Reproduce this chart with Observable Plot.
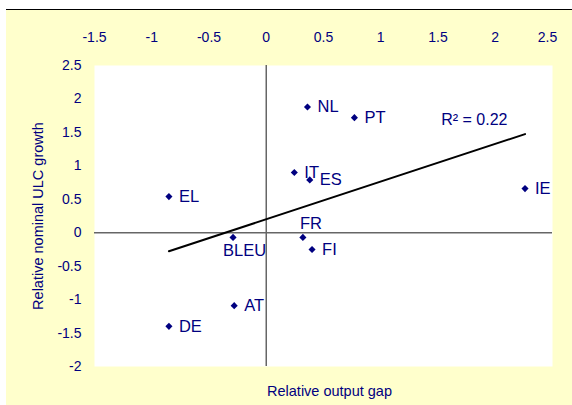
<!DOCTYPE html>
<html>
<head>
<meta charset="utf-8">
<script src="https://cdn.jsdelivr.net/npm/d3@7"></script>
<script src="https://cdn.jsdelivr.net/npm/@observablehq/plot@0.6"></script>
<style>
  body { margin: 0; background: white; }
  #chart { position: absolute; left: 6px; top: 9px; width: 566px; height: 395px; background: #FFFFCC; border-top: 1px solid black; }
</style>
</head>
<body>
<div id="chart"></div>
<script>
const countries = ["EL", "DE", "AT", "BLEU", "IT", "ES", "NL", "PT", "IE", "FR", "FI"];
const outputGap = [-0.85, -0.85, -0.28, -0.29, 0.245, 0.38, 0.36, 0.77, 2.26, 0.32, 0.40];
const ulcGrowth = [0.54, -1.40, -1.09, -0.07, 0.90, 0.79, 1.88, 1.72, 0.66, -0.07, -0.25];
const xTicks = [-1.5, -1, -0.5, 0, 0.5, 1, 1.5, 2, 2.5];
const yTicks = [-2, -1.5, -1, -0.5, 0, 0.5, 1, 1.5, 2, 2.5];
const xTitle = "Relative output gap";
const yTitle = "Relative nominal ULC growth";

const data = countries.map((c, i) => ({country: c, x: outputGap[i], y: ulcGrowth[i]}));

// R² of the linear fit
const mx = d3.mean(outputGap), my = d3.mean(ulcGrowth);
const sxy = d3.sum(data, d => (d.x - mx) * (d.y - my));
const sxx = d3.sum(data, d => (d.x - mx) ** 2);
const syy = d3.sum(data, d => (d.y - my) ** 2);
const r2 = (sxy * sxy) / (sxx * syy);
const r2Label = "R\u00B2 = " + r2.toFixed(2);

const navy = "#000080";
const above = new Set(["FR"]);
const below = new Set(["BLEU"]);
const labelSize = 16.5;

const chart = Plot.plot({
  width: 566,
  height: 395,
  marginLeft: 88,
  marginTop: 55,
  marginRight: 20,
  marginBottom: 39,
  style: {background: "#FFFFCC", fontFamily: "'Liberation Sans', Arial, sans-serif", color: navy},
  x: {domain: [-1.5, 2.5]},
  y: {domain: [-2, 2.5]},
  marks: [
    Plot.frame({fill: "white", stroke: "none"}),
    Plot.axisX({anchor: "top", ticks: xTicks.slice(0, -1), tickSize: 0, tickPadding: 24, tickFormat: d => String(d), fontSize: 14, fill: navy, label: null}),
    Plot.axisX({anchor: "top", ticks: xTicks.slice(-1), tickSize: 0, tickPadding: 24, dx: -5, tickFormat: d => String(d), fontSize: 14, fill: navy, label: null}),
    Plot.axisY({anchor: "left", ticks: yTicks, tickSize: 0, tickPadding: 13, tickFormat: d => String(d), fontSize: 14, fill: navy, label: null}),
    Plot.ruleX([0], {stroke: "#666666", strokeWidth: 1.5}),
    Plot.ruleY([0], {stroke: "#666666", strokeWidth: 1.5}),
    Plot.linearRegressionY(data, {x: "x", y: "y", stroke: "black", strokeWidth: 2, ci: 0}),
    Plot.dot(data, {x: "x", y: "y", symbol: "diamond2", r: 3.2, fill: navy, stroke: "none"}),
    Plot.text(data.filter(d => !above.has(d.country) && !below.has(d.country)), {x: "x", y: "y", text: "country", textAnchor: "start", dx: 10, fontSize: labelSize, fill: navy}),
    Plot.text(data.filter(d => above.has(d.country)), {x: "x", y: "y", text: "country", textAnchor: "start", dx: -3, dy: -14, fontSize: labelSize, fill: navy}),
    Plot.text(data.filter(d => below.has(d.country)), {x: "x", y: "y", text: "country", textAnchor: "start", dx: -10, dy: 13, fontSize: labelSize, fill: navy}),
    Plot.text([r2Label], {frameAnchor: "top-right", text: d => d, textAnchor: "end", dx: -45, dy: 48, fontSize: 16, fill: navy}),
    Plot.text([xTitle], {frameAnchor: "bottom", text: d => d, textAnchor: "middle", dx: 6, dy: 29, fontSize: 14.5, fill: navy}),
    Plot.text([yTitle], {frameAnchor: "left", text: d => d, textAnchor: "middle", rotate: -90, dx: -56, fontSize: 14.5, fill: navy})
  ]
});
document.getElementById("chart").appendChild(chart);
</script>
</body>
</html>
